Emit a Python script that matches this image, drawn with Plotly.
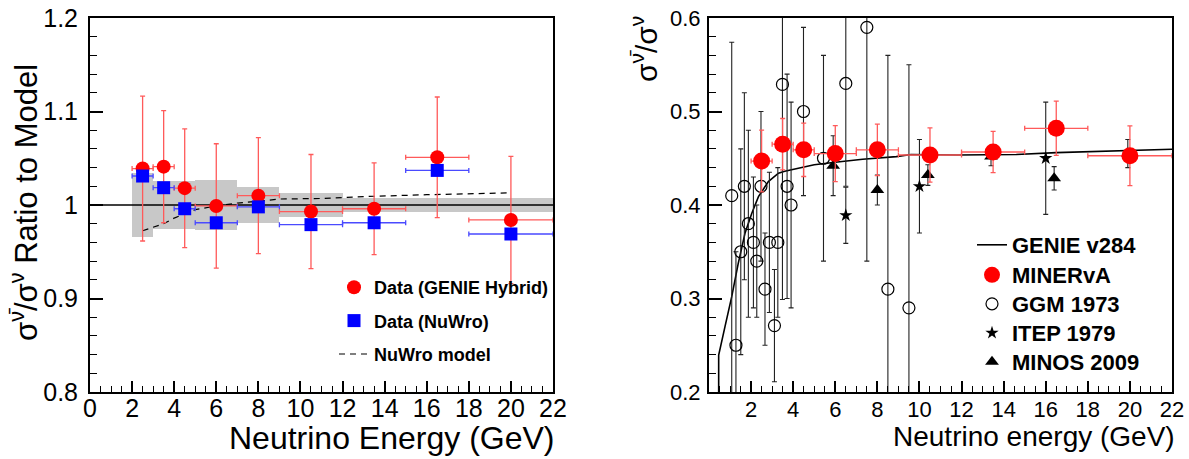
import plotly.graph_objects as go

# ---------------- data: left panel (ratio to model) ----------------
bin_center = [2.5, 3.5, 4.5, 6.0, 8.0, 10.5, 13.5, 16.5, 20.0]
bin_halfwidth = [0.5, 0.5, 0.5, 1.0, 1.0, 1.5, 1.5, 1.5, 2.0]
genie_hybrid_ratio = [1.039, 1.041, 1.018, 0.999, 1.010, 0.993, 0.996, 1.051, 0.984]
genie_hybrid_err = [0.0775, 0.060, 0.0635, 0.0665, 0.062, 0.061, 0.049, 0.0645, 0.068]
nuwro_ratio = [1.031, 1.0185, 0.996, 0.981, 0.998, 0.979, 0.981, 1.037, 0.969]

band_center = [2.5, 3.5, 4.5, 6.0, 8.0, 10.5, 13.5, 16.5, 20.0]
band_width = [1.0, 1.0, 1.0, 2.0, 2.0, 3.0, 3.0, 3.0, 4.0]
band_halfheight = [0.034, 0.026, 0.026, 0.027, 0.019, 0.013, 0.008, 0.008, 0.008]
band_mid = [1.0] * len(band_center)

model_ref_x = [0.0, 22.0]
model_ref_y = [1.0, 1.0]

nuwro_model_e = [2.5, 3.0, 3.5, 4.0, 5.0, 6.0, 7.0, 8.0, 9.0, 11.0, 13.0, 16.0, 20.0]
nuwro_model_ratio = [0.9725, 0.976, 0.980, 0.986, 0.995, 0.999, 1.002, 1.004, 1.0064,
                     1.007, 1.009, 1.011, 1.013]

# ---------------- data: right panel (antinu/nu cross-section ratio) ----------------
minerva_ratio = [0.447, 0.465, 0.459, 0.455, 0.459, 0.4535, 0.4567, 0.482, 0.4527]
minerva_err = [0.033, 0.0275, 0.0285, 0.030, 0.0275, 0.029, 0.022, 0.029, 0.032]

genie_e = [0.46, 0.46, 0.76, 1.08, 1.39, 1.71, 2.03, 2.35, 2.82, 3.3, 3.6, 4.2, 5.0, 6.0,
           7.3, 8.9, 9.6, 11.8, 14.6, 16.5, 19.7, 22.0]
genie_ratio = [0.2, 0.2396, 0.270, 0.302, 0.3376, 0.3697, 0.391, 0.409, 0.425, 0.434, 0.436,
               0.439, 0.443, 0.4457, 0.449, 0.4517, 0.454, 0.4535, 0.454, 0.456, 0.4578, 0.4596]

ggm_e = [1.08, 1.28, 1.51, 1.68, 1.87, 2.11, 2.27, 2.47, 2.66, 2.87, 3.11, 3.27, 3.49, 3.71,
         3.90, 4.49, 5.44, 6.50, 7.50, 8.50, 9.50]
ggm_ratio = [0.410, 0.250, 0.350, 0.420, 0.380, 0.360, 0.340, 0.420, 0.310, 0.360, 0.271,
             0.360, 0.529, 0.420, 0.400, 0.500, 0.450, 0.530, 0.590, 0.310, 0.290]
ggm_err_up = [0.164, 0.10, 0.11, 0.10, 0.10, 0.07, 0.06, 0.08, 0.06, 0.075, 0.06, 0.08, 0.23,
              0.12, 0.11, 0.09, 0.11, 0.11, 0.25, 0.25, 0.26]
ggm_err_down = [0.25, 0.10, 0.11, 0.10, 0.10, 0.07, 0.06, 0.08, 0.06, 0.075, 0.06, 0.08, 0.23,
                0.12, 0.11, 0.09, 0.11, 0.11, 0.25, 0.25, 0.26]

itep_e = [6.5, 10.0, 16.0]
itep_ratio = [0.389, 0.420, 0.450]
itep_err = [0.03, 0.05, 0.06]

minos_e = [5.9, 8.0, 10.4, 13.4, 16.4, 19.9]
minos_ratio = [0.442, 0.416, 0.432, 0.452, 0.4285, 0.455]
minos_err = [0.032, 0.016, 0.011, 0.010, 0.0125, 0.015]

# ---------------- styling ----------------
W, H = 1189, 459
FONT = "Liberation Sans, Arial, Helvetica, sans-serif"
RED = "#ff0000"
RED_BAR = "#ff5a5a"
BLUE = "#0000ff"
BLUE_BAR = "#4a4aff"

fig = go.Figure()

# Left panel
fig.add_trace(go.Bar(x=band_center, y=[2 * h for h in band_halfheight],
                     base=[m - h for m, h in zip(band_mid, band_halfheight)],
                     width=band_width, marker=dict(color="#c8c8c8", line=dict(width=0)),
                     showlegend=False, xaxis="x", yaxis="y", hoverinfo="skip"))
fig.add_trace(go.Scatter(x=model_ref_x, y=model_ref_y, mode="lines",
                         line=dict(color="black", width=1.5), showlegend=False,
                         xaxis="x", yaxis="y"))
fig.add_trace(go.Scatter(x=nuwro_model_e, y=nuwro_model_ratio, mode="lines",
                         line=dict(color="black", width=1.2, dash="6px,5px"),
                         name="NuWro model", legend="legend", legendrank=3,
                         legendgroup="c", xaxis="x", yaxis="y"))
fig.add_trace(go.Scatter(x=bin_center, y=genie_hybrid_ratio, mode="markers",
                         marker=dict(symbol="circle", size=14, color=RED),
                         error_y=dict(type="data", array=genie_hybrid_err, color=RED_BAR,
                                      thickness=1.3, width=2.5),
                         error_x=dict(type="data", array=bin_halfwidth, color=RED_BAR,
                                      thickness=1.3, width=2.5),
                         name="Data (GENIE Hybrid)", legend="legend", legendrank=1,
                         legendgroup="a", xaxis="x", yaxis="y"))
fig.add_trace(go.Scatter(x=bin_center, y=nuwro_ratio, mode="markers",
                         marker=dict(symbol="square", size=13, color=BLUE),
                         error_x=dict(type="data", array=bin_halfwidth, color=BLUE_BAR,
                                      thickness=1.3, width=2.5),
                         name="Data (NuWro)", legend="legend", legendrank=2,
                         legendgroup="b", xaxis="x", yaxis="y"))

# Right panel (one legend box per entry so that the row spacing matches)
fig.add_trace(go.Scatter(x=genie_e, y=genie_ratio, mode="lines",
                         line=dict(color="black", width=1.6),
                         name="GENIE v284", legend="legend2", xaxis="x2", yaxis="y2"))
fig.add_trace(go.Scatter(x=ggm_e, y=ggm_ratio, mode="markers",
                         marker=dict(symbol="circle-open", size=12, color="black",
                                     line=dict(width=1.2, color="black")),
                         error_y=dict(type="data", symmetric=False, array=ggm_err_up,
                                      arrayminus=ggm_err_down, color="#222222",
                                      thickness=1.1, width=2.5),
                         name="GGM 1973", legend="legend4", xaxis="x2", yaxis="y2"))
fig.add_trace(go.Scatter(x=itep_e, y=itep_ratio, mode="markers",
                         marker=dict(symbol="star", size=10, color="black"),
                         error_y=dict(type="data", array=itep_err, color="#222222",
                                      thickness=1.1, width=2.5),
                         name="ITEP 1979", legend="legend5", xaxis="x2", yaxis="y2"))
fig.add_trace(go.Scatter(x=minos_e, y=minos_ratio, mode="markers",
                         marker=dict(symbol="triangle-up", size=12, color="black"),
                         error_y=dict(type="data", array=minos_err, color="#222222",
                                      thickness=1.1, width=2.5),
                         name="MINOS 2009", legend="legend6", xaxis="x2", yaxis="y2"))
fig.add_trace(go.Scatter(x=bin_center, y=minerva_ratio, mode="markers",
                         marker=dict(symbol="circle", size=17, color=RED),
                         error_y=dict(type="data", array=minerva_err, color=RED_BAR,
                                      thickness=1.3, width=2.5),
                         error_x=dict(type="data", array=bin_halfwidth, color=RED_BAR,
                                      thickness=1.3, width=2.5),
                         name="MINERvA", legend="legend3", xaxis="x2", yaxis="y2"))

axis_common = dict(showline=True, linewidth=2, linecolor="black", mirror=True,
                   showgrid=False, zeroline=False, ticks="inside", tickcolor="black",
                   color="black", automargin=False)

ydom = [1 - 392 / H, 1 - 18 / H]


def right_legend(row_y):
    return dict(x=972 / W, y=1 - row_y / H, xanchor="left", yanchor="middle",
                bgcolor="rgba(0,0,0,0)", font=dict(size=22, family=FONT, weight="bold"),
                itemwidth=30)


fig.update_layout(
    width=W, height=H, paper_bgcolor="white", plot_bgcolor="white",
    margin=dict(l=0, r=0, t=0, b=0, autoexpand=False), barmode="overlay", bargap=0,
    font=dict(family=FONT, color="black"),
    xaxis=dict(domain=[90 / W, 553 / W], range=[0, 22], tick0=0, dtick=2, ticklen=11,
               tickwidth=1.5, anchor="y", tickfont=dict(size=25), ticklabelstandoff=-7,
               minor=dict(dtick=0.5, tick0=0, ticklen=6, ticks="inside",
                          tickcolor="black", tickwidth=1), **axis_common),
    yaxis=dict(domain=ydom, range=[0.8, 1.2], tick0=0.8, dtick=0.1, ticklen=13,
               tickwidth=1.5, anchor="x", tickfont=dict(size=25), ticklabelstandoff=5,
               minor=dict(dtick=0.02, tick0=0.8, ticklen=7, ticks="inside",
                          tickcolor="black", tickwidth=1), **axis_common),
    xaxis2=dict(domain=[709 / W, 1172 / W], range=[0, 22], tickmode="array",
                tickvals=list(range(0, 23, 2)),
                ticktext=[""] + [str(v) for v in range(2, 23, 2)],
                ticklen=11, tickwidth=1.5, anchor="y2", tickfont=dict(size=22),
                ticklabelstandoff=-3,
                minor=dict(tickmode="linear", dtick=0.5, tick0=0, ticklen=6,
                           ticks="inside", tickcolor="black", tickwidth=1), **axis_common),
    yaxis2=dict(domain=ydom, range=[0.2, 0.6], tick0=0.2, dtick=0.1, ticklen=13,
                tickwidth=1.5, anchor="x2", tickfont=dict(size=22), ticklabelstandoff=2,
                minor=dict(dtick=0.02, tick0=0.2, ticklen=7, ticks="inside",
                           tickcolor="black", tickwidth=1), **axis_common),
    legend=dict(x=334 / W, y=1 - 269 / H, xanchor="left", yanchor="top",
                bgcolor="rgba(0,0,0,0)", font=dict(size=18, family=FONT, weight="bold"),
                tracegroupgap=7, itemwidth=30),
    legend2=right_legend(245),
    legend3=right_legend(275),
    legend4=right_legend(304),
    legend5=right_legend(333),
    legend6=right_legend(362),
)

annots = [
    dict(text="σ<sup>ν̄</sup>/σ<sup>ν</sup> Ratio to Model", textangle=-90,
         x=24 / W, y=1 - 203 / H, xanchor="center", yanchor="middle", font=dict(size=31)),
    dict(text="Neutrino Energy (GeV)", x=556 / W, y=1 - 438 / H, xanchor="right",
         yanchor="middle", font=dict(size=32)),
    dict(text="σ<sup>ν̄</sup>/σ<sup>ν</sup>", textangle=-90, x=644 / W, y=1 - 14 / H,
         xanchor="center", yanchor="top", font=dict(size=30)),
    dict(text="Neutrino energy (GeV)", x=1177 / W, y=1 - 436 / H, xanchor="right",
         yanchor="middle", font=dict(size=28)),
]
for a in annots:
    fig.add_annotation(xref="paper", yref="paper", showarrow=False,
                       font_family=FONT, font_color="black", **a)

fig.write_html("out.html", config={"displayModeBar": False},
               post_script="document.body.style.margin='0';document.body.style.padding='0';")
